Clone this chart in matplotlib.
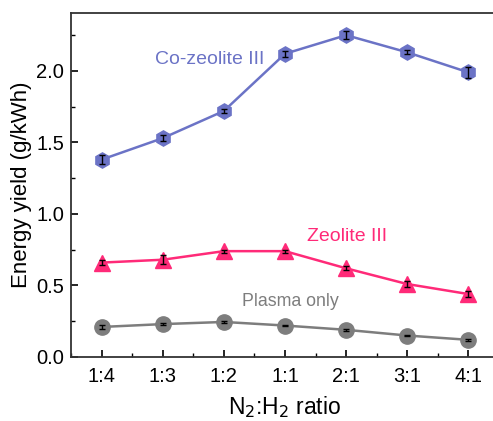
import matplotlib
matplotlib.use("Agg")
import matplotlib.pyplot as plt
from matplotlib.ticker import MultipleLocator

plt.rcParams['font.family'] = ['Liberation Sans', 'DejaVu Sans']

categories = ["1:4", "1:3", "1:2", "1:1", "2:1", "3:1", "4:1"]
co_zeolite = [1.38, 1.53, 1.72, 2.12, 2.25, 2.13, 1.99]
co_zeolite_err = [0.03, 0.02, 0.015, 0.02, 0.03, 0.015, 0.04]
zeolite = [0.66, 0.68, 0.74, 0.74, 0.62, 0.51, 0.44]
zeolite_err = [0.02, 0.03, 0.01, 0.01, 0.015, 0.02, 0.02]
plasma = [0.21, 0.23, 0.245, 0.22, 0.19, 0.15, 0.12]
plasma_err = [0.015, 0.005, 0.005, 0.005, 0.005, 0.005, 0.005]

fig = plt.figure(figsize=(4.93, 4.21), dpi=100)
ax = fig.add_axes([71/493, 64/421, 428/493, 344/421])

x = list(range(len(categories)))

series = [
    (co_zeolite, co_zeolite_err, '#6b73c6', 'h', 11, "Co-zeolite III", (1.77, 2.08), 14),
    (zeolite, zeolite_err, '#ff2a78', '^', 11.5, "Zeolite III", (4.02, 0.84), 14),
    (plasma, plasma_err, '#7d7d7d', 'o', 11, "Plasma only", (3.08, 0.385), 12.8),
]
for vals, err, col, mk, ms, label, pos, fs in series:
    ax.plot(x, vals, color=col, lw=1.8, marker=mk, ms=ms, mfc=col, mec=col, zorder=2)
    ax.errorbar(x, vals, yerr=err, fmt='none', ecolor='black', elinewidth=1.0,
                capsize=2.5, capthick=1.0, zorder=3)
    ax.text(pos[0], pos[1], label, color=col, fontsize=fs, ha='center', va='center')

ax.set_xlim(-0.5, 6.5)
ax.set_ylim(0, 2.405)
ax.set_xticks(x)
ax.set_xticklabels(categories)
ax.xaxis.set_minor_locator(MultipleLocator(0.5))
ax.yaxis.set_major_locator(MultipleLocator(0.5))
ax.yaxis.set_minor_locator(MultipleLocator(0.25))
ax.tick_params(which='both', direction='in', top=False, right=False, labelsize=14.5)
ax.tick_params(which='major', length=5, width=1.2)
ax.tick_params(axis='x', which='major', pad=7)
ax.tick_params(axis='y', which='major', pad=5)
ax.tick_params(which='minor', length=3, width=1.0)
for s in ax.spines.values():
    s.set_linewidth(1.3)
    s.set_color('#333333')

ax.set_ylabel("Energy yield (g/kWh)", fontsize=16, labelpad=3)
ax.set_xlabel("N$_2$:H$_2$ ratio", fontsize=16.5, labelpad=6)

fig.savefig("out.png", dpi=100)
